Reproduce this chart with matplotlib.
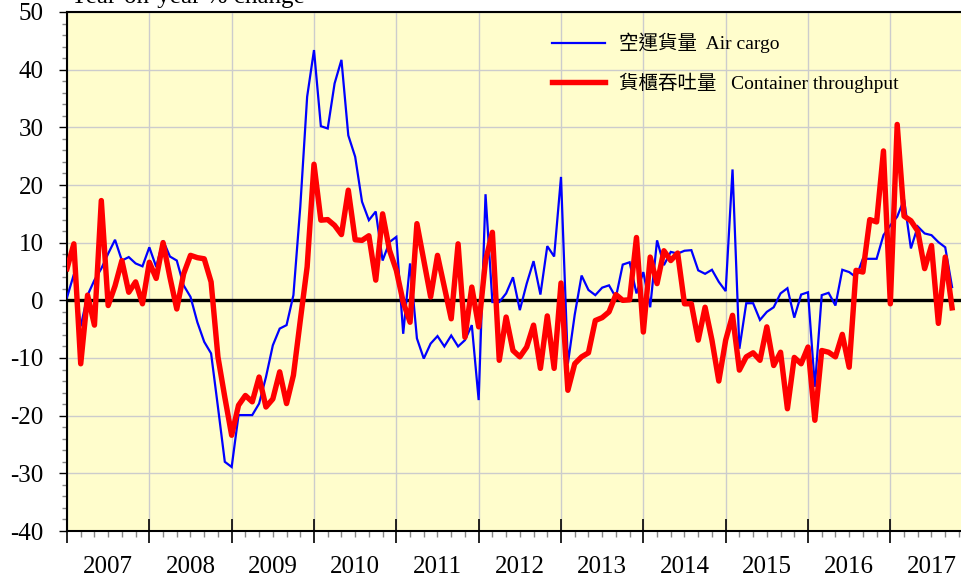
import numpy as np
import matplotlib
matplotlib.use("Agg")
import matplotlib.pyplot as plt
from matplotlib.ticker import MultipleLocator, FixedLocator, NullFormatter
from matplotlib.lines import Line2D
import matplotlib.transforms as mtransforms

plt.rcParams['font.family'] = ['Liberation Serif', 'Noto Sans CJK TC', 'DejaVu Sans']
plt.rcParams['axes.unicode_minus'] = False

# Monthly series, Jan 2007 .. Oct 2017 (year-on-year % change)
air_cargo = [
    0.5, 4.5, -4.5, 0.9, 3.5, 5.5, 8.1, 10.5, 6.9, 7.5, 6.4, 5.9,          # 2007
    9.2, 5.8, 10.4, 7.6, 6.9, 2.6, 0.6, -3.8, -7.2, -9.2, -18.5, -28.0,    # 2008
    -28.9, -19.9, -19.9, -19.9, -17.9, -13.3, -7.8, -4.9, -4.3, 0.9, 16.2, 35.3,  # 2009
    43.4, 30.2, 29.8, 37.6, 41.7, 28.6, 24.9, 17.1, 13.9, 15.4, 6.9, 10.1,  # 2010
    11.0, -5.8, 6.4, -6.6, -10.1, -7.5, -6.2, -8.0, -6.1, -8.0, -6.9, -4.3,  # 2011
    -17.3, 18.4, -0.3, -0.3, 1.2, 4.0, -1.7, 2.9, 6.8, 1.0, 9.4, 7.6,     # 2012
    21.4, -11.0, -2.5, 4.3, 1.8, 0.9, 2.2, 2.6, 0.5, 6.2, 6.6, 1.2,       # 2013
    4.9, -1.2, 10.4, 6.1, 8.4, 8.1, 8.6, 8.7, 5.2, 4.6, 5.3, 3.2,         # 2014
    1.6, 22.7, -8.4, -0.5, -0.5, -3.4, -2.0, -1.2, 1.2, 2.1, -3.0, 1.0,   # 2015
    1.4, -15.0, 0.9, 1.3, -0.9, 5.3, 4.9, 4.0, 7.2, 7.2, 7.2, 11.3,       # 2016
    13.0, 14.5, 17.5, 9.0, 12.8, 11.6, 11.3, 10.1, 9.2, 2.3,              # 2017
]
container = [
    5.5, 9.8, -11.0, 0.9, -4.3, 17.3, -0.9, 2.5, 6.9, 1.4, 3.2, -0.6,     # 2007
    6.6, 3.8, 10.0, 4.0, -1.5, 4.6, 7.8, 7.4, 7.2, 3.2, -9.8, -16.8,      # 2008
    -23.4, -18.2, -16.5, -17.6, -13.3, -18.5, -17.1, -12.4, -17.9, -13.0, -3.5, 5.8,  # 2009
    23.6, 13.9, 14.0, 13.0, 11.4, 19.1, 10.5, 10.4, 11.2, 3.5, 15.0, 8.7,  # 2010
    5.2, -0.3, -3.8, 13.3, 6.9, 0.6, 7.8, 2.3, -3.2, 9.8, -6.4, 2.3,      # 2011
    -4.6, 6.9, 11.8, -10.4, -2.9, -8.7, -9.8, -8.1, -4.3, -11.8, -2.7, -11.8,  # 2012
    3.0, -15.6, -11.0, -9.8, -9.1, -3.5, -3.0, -2.0, 1.0, 0.0, 0.1, 10.9,  # 2013
    -5.5, 7.5, 2.9, 8.6, 6.9, 8.2, -0.6, -0.6, -6.9, -1.2, -6.9, -14.0,   # 2014
    -6.9, -2.6, -12.1, -9.8, -9.1, -10.4, -4.6, -11.3, -9.0, -18.8, -9.9, -11.0,  # 2015
    -8.1, -20.8, -8.7, -9.0, -9.8, -5.9, -11.6, 5.2, 4.9, 14.0, 13.6, 25.9,  # 2016
    -0.6, 30.5, 14.6, 13.8, 12.0, 5.5, 9.5, -4.0, 7.5, -1.3,              # 2017
]
years = ['2007', '2008', '2009', '2010', '2011', '2012', '2013', '2014', '2015', '2016', '2017']
y_ticks = [-40, -30, -20, -10, 0, 10, 20, 30, 40, 50]
label_air = '空運貨量  Air cargo'
label_con = '貨櫃吞吐量   Container throughput'
title = 'Year-on-year % change'

W, H = 961, 576
fig = plt.figure(figsize=(W / 100, H / 100), dpi=100)
ax = fig.add_axes([67 / W, (H - 531) / H, (961 - 67) / W, (531 - 12) / H])
ax.set_facecolor('#FFFDCC')

x = np.arange(len(air_cargo))
xc = np.arange(len(container))

ax.axhline(0, color='black', lw=2.4, zorder=2)
ax.plot(x, air_cargo, color='#0000FF', lw=1.6, zorder=3, solid_joinstyle='miter')
ax.plot(xc, container, color='#FF0000', lw=3.9, zorder=4, solid_joinstyle='round')

ax.set_xlim(0, 130.3)
ax.set_ylim(-40, 50)

# grid
ax.xaxis.set_major_locator(FixedLocator([12 * i for i in range(len(years))]))
ax.xaxis.set_minor_locator(MultipleLocator(2))
ax.yaxis.set_major_locator(FixedLocator(y_ticks))
ax.yaxis.set_minor_locator(MultipleLocator(2))
ax.grid(True, which='major', color='#CCCCCC', lw=1.0, zorder=0)
ax.set_axisbelow(True)

ax.xaxis.set_major_formatter(NullFormatter())
ax.xaxis.set_minor_formatter(NullFormatter())
ax.set_yticklabels([str(v) for v in y_ticks])

ax.tick_params(axis='x', which='major', direction='inout', length=17, width=1.2, color='black')
ax.tick_params(axis='x', which='minor', direction='out', length=4.3, width=1.0, color='#888888')
ax.tick_params(axis='y', which='major', direction='out', length=5.8, width=1.0, color='black',
               labelsize=18, pad=11)
ax.tick_params(axis='y', which='minor', direction='out', length=3.6, width=1.0, color='#888888')

for s in ['left', 'bottom', 'top']:
    ax.spines[s].set_color('black')
    ax.spines[s].set_linewidth(1.5)
ax.spines['right'].set_visible(False)

# year labels centred in each year
trans = mtransforms.blended_transform_factory(ax.transData, ax.transAxes)
for i, yr in enumerate(years):
    ax.text(12 * i + 6, -42 / 519, yr, transform=trans, ha='center', va='baseline',
            fontsize=18, clip_on=False)

fig.text(70 / W, 1 - 3 / H, title, fontsize=18, ha='left', va='baseline')

handles = [Line2D([], [], color='#0000FF', lw=1.6),
           Line2D([], [], color='#FF0000', lw=3.9)]
ax.legend(handles, [label_air, label_con], loc='upper left',
          bbox_to_anchor=((552 - 67) / 894, 1 - 21 / 519), frameon=False,
          fontsize=14, handlelength=2.7, handletextpad=0.75, labelspacing=1.0,
          borderpad=0, borderaxespad=0)

fig.savefig('out.png', dpi=100)
